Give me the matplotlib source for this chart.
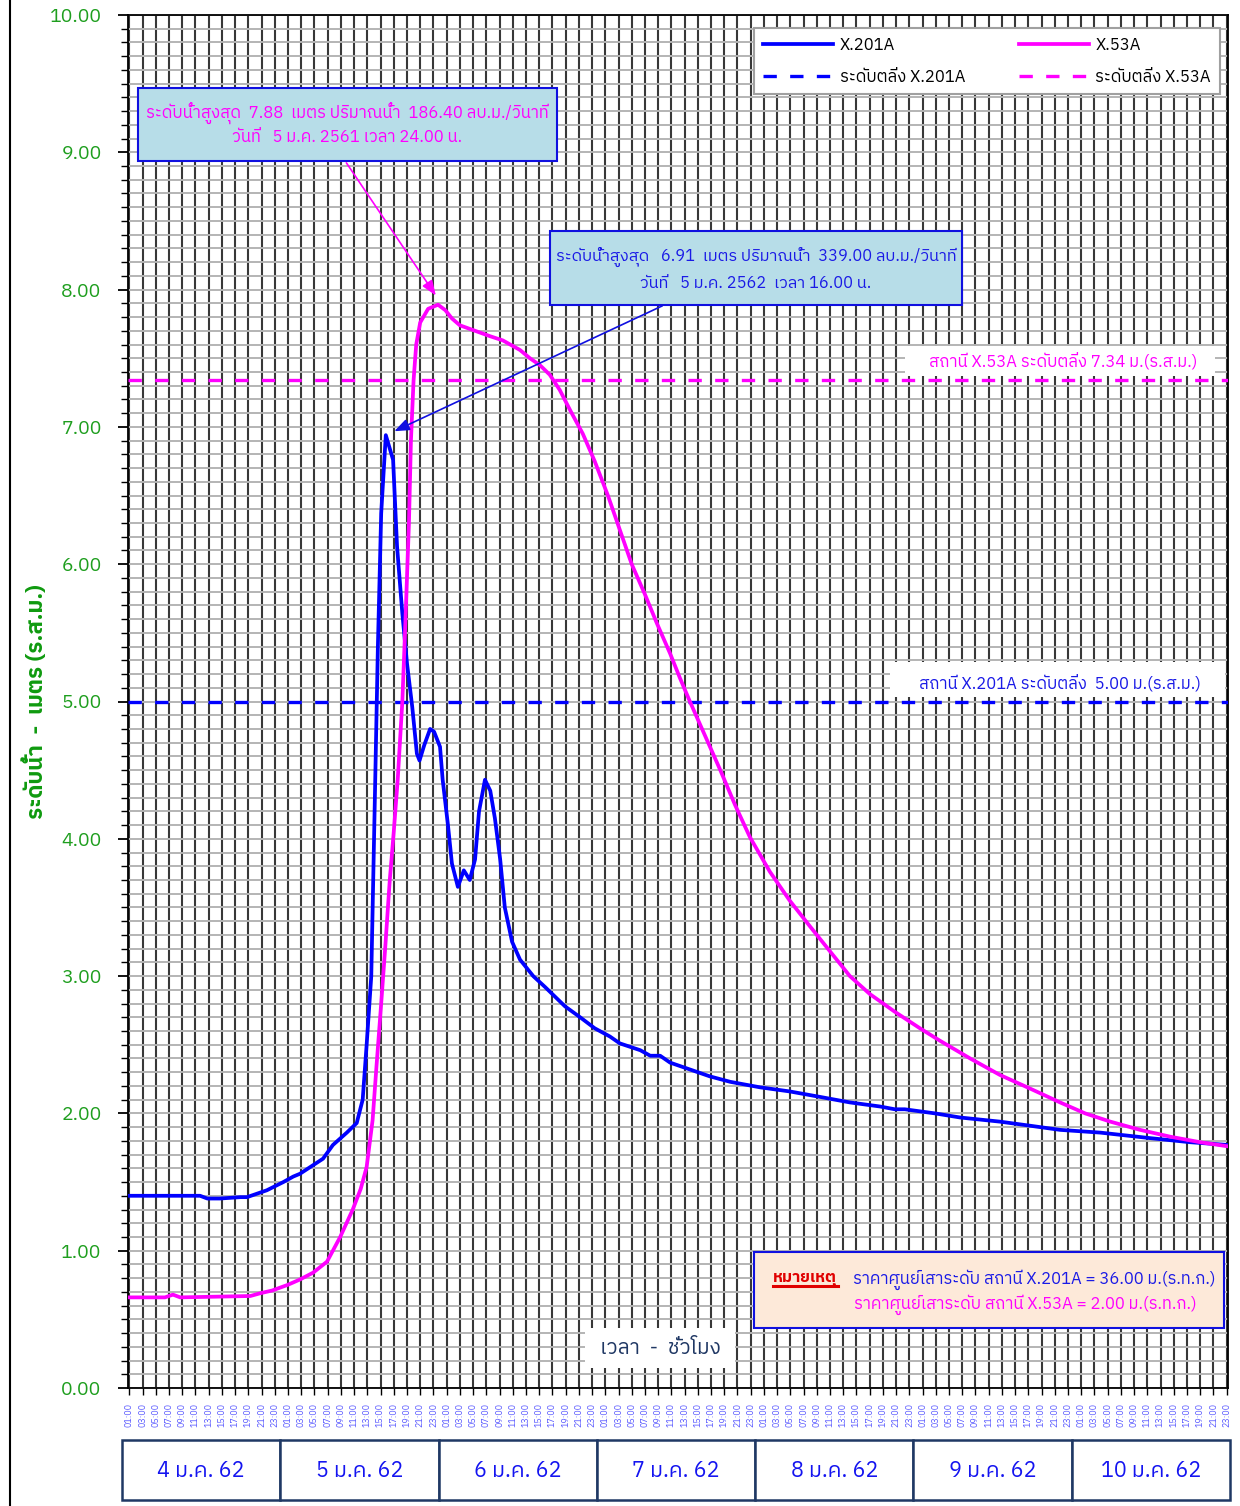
import matplotlib
matplotlib.use("Agg")
import matplotlib.pyplot as plt
from matplotlib import font_manager
from matplotlib.ft2font import FT2Font
from matplotlib.patches import Rectangle
from matplotlib.lines import Line2D
from matplotlib.ticker import MultipleLocator, FormatStrFormatter, FixedLocator


def find_thai_font():
    # pick any installed font that has Thai glyphs
    found = []
    for f in font_manager.fontManager.ttflist:
        try:
            if 0x0E23 in FT2Font(f.fname).get_charmap():
                found.append(f.name)
        except Exception:
            continue
    for name in found:
        if "Thai" in name:
            return name
    return found[0] if found else None


thai = find_thai_font()
families = [thai, "DejaVu Sans"] if thai else ["DejaVu Sans"]
plt.rcParams["font.family"] = families

# --- data: hours counted from 01:00 of 4 Jan ---
hours_201 = [0, 10.7, 11.8, 13.7, 16.8, 17.8, 20.8, 23.3, 24.8, 25.8, 29.3, 30.8, 32.9, 34.4,
             35.3, 35.9, 36.6, 37.2, 37.6, 38.1, 38.8, 39.9, 40.5, 41.3, 42.0, 42.8, 43.5,
             43.9, 44.6, 45.5, 46.1, 47.0, 47.4, 48.2, 48.8, 49.7, 50.6, 51.5, 52.3, 52.9,
             53.8, 54.6, 55.3, 56.1, 56.8, 57.9, 59.1, 61.1, 62.9, 64.4, 65.9, 68.2, 70.4,
             72.7, 74.2, 77.3, 78.8, 80.3, 81.8, 84.8, 87.8, 90.9, 95.4, 99.9, 104.5, 109.0,
             113.6, 115.8, 117.3, 121.9, 125.7, 131.7, 136.3, 140.8, 146.9, 154.4, 160.5, 166.2]
level_201 = [1.40, 1.40, 1.38, 1.38, 1.39, 1.39, 1.44, 1.50, 1.54, 1.56, 1.67, 1.77, 1.86, 1.93,
             2.10, 2.50, 3.00, 4.43, 5.40, 6.37, 6.94, 6.76, 6.13, 5.64, 5.28, 4.96, 4.62,
             4.57, 4.68, 4.80, 4.78, 4.67, 4.43, 4.10, 3.82, 3.65, 3.77, 3.70, 3.85, 4.20,
             4.43, 4.35, 4.15, 3.85, 3.50, 3.25, 3.12, 3.00, 2.92, 2.85, 2.78, 2.70, 2.62,
             2.56, 2.51, 2.46, 2.42, 2.42, 2.37, 2.32, 2.27, 2.23, 2.19, 2.16, 2.12, 2.08,
             2.05, 2.03, 2.03, 2.00, 1.97, 1.94, 1.91, 1.88, 1.86, 1.82, 1.79, 1.77]

hours_53 = [0, 5.4, 6.6, 7.7, 18.3, 19.8, 21.6, 23.9, 25.8, 27.8, 29.9, 31.9, 33.8, 35.0, 35.9,
            36.8, 37.4, 38.1, 38.7, 39.4, 40.0, 40.6, 41.3, 41.7, 42.3, 42.6, 43.0, 43.4,
            44.0, 45.2, 46.7, 47.8, 48.8, 50.0, 52.3, 54.6, 56.5, 59.1, 60.6, 62.1, 63.6,
            65.1, 66.7, 68.6, 70.4, 72.4, 74.2, 76.0, 78.0, 79.8, 81.8, 83.3, 84.8, 87.1,
            89.4, 91.6, 93.9, 96.9, 99.9, 103.0, 106.0, 109.0, 112.0, 115.8, 119.6, 122.6,
            127.2, 131.7, 136.3, 140.8, 144.6, 148.4, 152.9, 157.5, 162.0, 166.2]
level_53 = [0.66, 0.66, 0.68, 0.66, 0.67, 0.69, 0.71, 0.75, 0.79, 0.84, 0.92, 1.10, 1.30, 1.45,
            1.61, 1.95, 2.35, 2.80, 3.20, 3.70, 4.05, 4.43, 5.00, 5.50, 6.30, 6.90, 7.34, 7.60,
            7.76, 7.86, 7.89, 7.85, 7.79, 7.74, 7.70, 7.66, 7.63, 7.56, 7.50, 7.45, 7.38,
            7.27, 7.12, 6.95, 6.75, 6.50, 6.25, 6.00, 5.78, 5.57, 5.35, 5.17, 5.00, 4.75,
            4.50, 4.25, 4.01, 3.76, 3.55, 3.36, 3.18, 3.00, 2.87, 2.74, 2.62, 2.53,
            2.40, 2.28, 2.18, 2.08, 2.00, 1.94, 1.88, 1.83, 1.79, 1.76]

BANK_201 = 5.00
BANK_53 = 7.34

days = ["4 ม.ค. 62", "5 ม.ค. 62", "6 ม.ค. 62", "7 ม.ค. 62", "8 ม.ค. 62", "9 ม.ค. 62", "10 ม.ค. 62"]
hour_labels = ["%02d:00" % h for h in range(1, 24, 2)] * len(days)

BLUE = "#0000FF"
MAGENTA = "#FF00FF"
GREEN = "#1E9E1E"

fig = plt.figure(figsize=(12.4, 15.06), dpi=100)
ax = fig.add_axes([128 / 1240, 1 - 1388 / 1506, 1100 / 1240, 1373 / 1506])

ax.plot(hours_201, level_201, color=BLUE, lw=2.7, label="X.201A", zorder=4)
ax.axhline(BANK_201, color=BLUE, lw=2.4, ls=(0, (4, 4)), label="ระดับตลิ่ง X.201A", zorder=3)
ax.plot(hours_53, level_53, color=MAGENTA, lw=2.7, label="X.53A", zorder=4)
ax.axhline(BANK_53, color=MAGENTA, lw=2.4, ls=(0, (4, 4)), label="ระดับตลิ่ง X.53A", zorder=3)

ax.set_xlim(-0.2, 166.2)
ax.set_ylim(0, 10)

# axes / grid
ax.yaxis.set_major_locator(MultipleLocator(1))
ax.yaxis.set_minor_locator(MultipleLocator(0.1))
ax.yaxis.set_major_formatter(FormatStrFormatter("%.2f"))
ax.xaxis.set_major_locator(FixedLocator(range(0, 167, 2)))
ax.set_xticklabels(hour_labels, rotation=90, fontsize=6.5, color="#5A5AFF")
ax.tick_params(axis="y", which="major", length=7, width=1.3, pad=12, labelsize=14, labelcolor=GREEN)
ax.tick_params(axis="y", which="minor", length=5, width=1.0)
ax.tick_params(axis="x", length=5, width=1.0, pad=6)
ax.set_axisbelow(True)
ax.grid(axis="y", which="both", color="#B4B4B4", lw=1.4)
ax.grid(axis="x", which="major", color="#383838", lw=1.5)
for s in ax.spines.values():
    s.set_linewidth(1.3)

ax.set_ylabel("ระดับน้ำ  -  เมตร (ร.ส.ม.)", color="#0F9A0F", fontsize=16, fontweight="bold")
ax.yaxis.set_label_coords(-0.074, 0.5)

# legend
h = ax.get_legend_handles_labels()
leg = ax.legend(h[0], h[1], loc="upper right", ncol=2, fontsize=12, handlelength=4.2,
                handletextpad=0.4, columnspacing=3.2, frameon=True, fancybox=False,
                edgecolor="#A0A0A0", borderpad=0.55, labelspacing=0.95, borderaxespad=0,
                bbox_to_anchor=(0.9927, 0.9905), framealpha=1)
leg.get_frame().set_linewidth(1.5)

# peak annotations
box_fc = "#B7DDE8"
ax.add_patch(Rectangle((1.3, 8.94), 63.4, 0.53, fc=box_fc, ec="#1010E0", lw=1.5, zorder=6))
ax.text(33.0, 9.29, "ระดับน้ำสูงสุด  7.88  เมตร ปริมาณน้ำ  186.40 ลบ.ม./วินาที",
        ha="center", va="center", color=MAGENTA, fontsize=12, zorder=7)
ax.text(33.0, 9.11, "วันที่   5 ม.ค. 2561 เวลา 24.00 น.",
        ha="center", va="center", color=MAGENTA, fontsize=12, zorder=7)
ax.annotate("", xy=(46.6, 7.94), xytext=(32.6, 8.94),
            arrowprops=dict(arrowstyle="-|>,head_length=0.9,head_width=0.35", color=MAGENTA, lw=1.2),
            zorder=6)

ax.add_patch(Rectangle((63.6, 7.89), 62.4, 0.54, fc=box_fc, ec="#1010E0", lw=1.5, zorder=6))
ax.text(94.8, 8.23, "ระดับน้ำสูงสุด   6.91  เมตร ปริมาณน้ำ  339.00 ลบ.ม./วินาที",
        ha="center", va="center", color="#1A1AE6", fontsize=11.8, zorder=7)
ax.text(94.8, 8.05, "วันที่   5 ม.ค. 2562  เวลา 16.00 น.",
        ha="center", va="center", color="#1A1AE6", fontsize=11.8, zorder=7)
ax.annotate("", xy=(39.7, 6.96), xytext=(81.0, 7.89),
            arrowprops=dict(arrowstyle="-|>,head_length=0.9,head_width=0.35", color="#1010E0", lw=1.2),
            zorder=6)

# bank level labels
ax.add_patch(Rectangle((117.4, 7.37), 46.8, 0.22, fc="white", ec="none", zorder=5))
ax.text(141.3, 7.48, "สถานี X.53A ระดับตลิ่ง 7.34 ม.(ร.ส.ม.)", ha="center", va="center",
        color=MAGENTA, fontsize=12, zorder=6)
ax.add_patch(Rectangle((115.1, 5.03), 50.6, 0.26, fc="white", ec="none", zorder=5))
ax.text(140.8, 5.14, "สถานี X.201A ระดับตลิ่ง  5.00 ม.(ร.ส.ม.)", ha="center", va="center",
        color="#1A1AE6", fontsize=12, zorder=6)

# note box
ax.add_patch(Rectangle((94.5, 0.437), 71.1, 0.553, fc="#FDE9D9", ec="#1010E0", lw=1.5, zorder=6))
ax.text(102.2, 0.79, "หมายเหตุ", ha="center", va="center", color="#E00000", fontsize=11.5,
        fontweight="bold", zorder=7)
ax.plot([97.3, 107.2], [0.74, 0.74], color="#E00000", lw=2.2, zorder=8)
ax.text(136.9, 0.79, "ราคาศูนย์เสาระดับ สถานี X.201A = 36.00 ม.(ร.ท.ก.)", ha="center", va="center",
        color="#1A1AE6", fontsize=12, zorder=7)
ax.text(135.5, 0.605, "ราคาศูนย์เสาระดับ สถานี X.53A = 2.00 ม.(ร.ท.ก.)", ha="center", va="center",
        color=MAGENTA, fontsize=12, zorder=7)

# time label
ax.add_patch(Rectangle((68.9, 0.146), 22.7, 0.291, fc="white", ec="none", zorder=5))
ax.text(80.3, 0.29, "เวลา  -  ชั่วโมง", ha="center", va="center", color="#203864", fontsize=15, zorder=6)

# date boxes below
dax = fig.add_axes([122 / 1240, 1 - 1500 / 1506, 1108 / 1240, 60 / 1506])
dax.set_xlim(0, len(days))
dax.set_ylim(0, 1)
dax.axis("off")
for i, d in enumerate(days):
    dax.add_patch(Rectangle((i, 0), 1, 1, fc="white", ec="#1F3864", lw=1.8, clip_on=False))
    dax.text(i + 0.5, 0.48, d, ha="center", va="center", color="#1414F0", fontsize=15.5)

fig.add_artist(Line2D([10 / 1240, 10 / 1240], [0, 1], color="black", lw=1.5))

fig.savefig("out.png", dpi=100)
